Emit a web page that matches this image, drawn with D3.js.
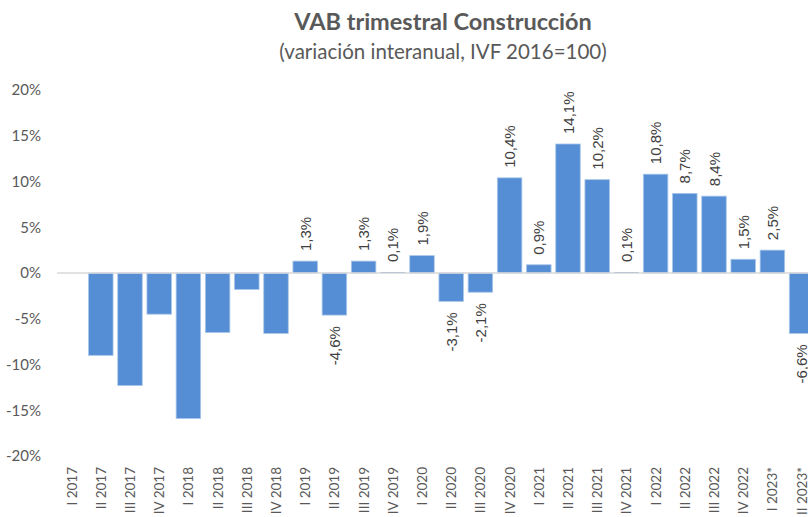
<!DOCTYPE html>
<html>
<head>
<meta charset="utf-8">
<script src="https://cdn.jsdelivr.net/npm/d3@7"></script>
<style>
  body { margin: 0; background: #fff; }
  svg { display: block; }
</style>
</head>
<body>
<div id="chart"></div>
<script>
// quarters, last two are provisional
var quarters = ["I 2017", "II 2017", "III 2017", "IV 2017",
                "I 2018", "II 2018", "III 2018", "IV 2018",
                "I 2019", "II 2019", "III 2019", "IV 2019",
                "I 2020", "II 2020", "III 2020", "IV 2020",
                "I 2021", "II 2021", "III 2021", "IV 2021",
                "I 2022", "II 2022", "III 2022", "IV 2022",
                "I 2023*", "II 2023*"];
// year-on-year change, %
var change = [null, -9.0, -12.3, -4.5,
              -15.9, -6.5, -1.8, -6.6,
              1.3, -4.6, 1.3, 0.1,
              1.9, -3.1, -2.1, 10.4,
              0.9, 14.1, 10.2, 0.1,
              10.8, 8.7, 8.4, 1.5,
              2.5, -6.6];
var firstLabelled = "I 2019";   // data labels only shown from here on
var yTicks = [-20, -15, -10, -5, 0, 5, 10, 15, 20];

var width = 808, height = 517;
var svg = d3.select("#chart").append("svg")
            .attr("width", width)
            .attr("height", height);

var x = d3.scaleBand()
          .domain(quarters)
          .range([57, 57 + 29.2 * quarters.length])
          .paddingInner(0.16)
          .paddingOuter(0.08);

var y = d3.scaleLinear()
          .domain([-20, 20])
          .range([456, 90]);

// title
svg.append("text")
   .attr("x", 443).attr("y", 30)
   .attr("text-anchor", "middle")
   .style("font-family", "Lato, 'Open Sans', sans-serif")
   .style("font-weight", "bold")
   .style("font-size", "23.5px")
   .style("fill", "#595959")
   .text("VAB trimestral Construcción");
svg.append("text")
   .attr("x", 443).attr("y", 59)
   .attr("text-anchor", "middle")
   .style("font-family", "Lato, 'Open Sans', sans-serif")
   .style("font-size", "20.5px")
   .style("fill", "#595959")
   .text("(variación interanual, IVF 2016=100)");

// y axis labels, no line
var yAxis = d3.axisLeft(y)
              .tickValues(yTicks)
              .tickSize(0)
              .tickPadding(0)
              .tickFormat(d => d + "%");
var yg = svg.append("g")
            .attr("transform", "translate(41,0)")
            .call(yAxis);
yg.select(".domain").remove();
yg.selectAll("text")
  .style("font-family", "Lato, sans-serif")
  .style("font-size", "15px")
  .style("fill", "#595959");

// bars
var data = quarters.map((q, i) => ({ q: q, v: change[i] }))
                   .filter(d => d.v !== null);

svg.append("g").selectAll("rect")
   .data(data)
   .enter().append("rect")
   .attr("x", d => x(d.q))
   .attr("width", x.bandwidth())
   .attr("y", d => y(Math.max(0, d.v)))
   .attr("height", d => Math.abs(y(d.v) - y(0)))
   .attr("fill", "#558ed5")
   .attr("stroke", d => Math.abs(d.v) < 0.5 ? "none" : "#a9c6ea")
   .attr("stroke-width", 0.8);

// zero line
svg.append("line")
   .attr("x1", x.range()[0]).attr("x2", x.range()[1])
   .attr("y1", y(0)).attr("y2", y(0))
   .attr("stroke", "#d9d9d9")
   .attr("stroke-width", 1.5);

// data labels (rotated)
var startIdx = quarters.indexOf(firstLabelled);
var fmt = v => v.toFixed(1).replace(".", ",") + "%";
svg.append("g").selectAll("text")
   .data(data.filter(d => quarters.indexOf(d.q) >= startIdx))
   .enter().append("text")
   .attr("transform", d => {
       var cx = x(d.q) + x.bandwidth() / 2;
       var yy = d.v >= 0 ? y(d.v) - 10 : y(d.v) + 11;
       return `translate(${cx},${yy}) rotate(-90)`;
   })
   .attr("text-anchor", d => d.v >= 0 ? "start" : "end")
   .attr("dominant-baseline", "central")
   .style("font-family", "'Liberation Sans', Arial, sans-serif")
   .style("font-size", "15px")
   .style("fill", "#404040")
   .text(d => fmt(d.v));

// category labels
svg.append("g").selectAll("text")
   .data(quarters)
   .enter().append("text")
   .attr("transform", q => `translate(${x(q) + x.bandwidth() / 2},467) rotate(-90)`)
   .attr("text-anchor", "end")
   .attr("dominant-baseline", "central")
   .style("font-family", "Lato, sans-serif")
   .style("font-size", "13.5px")
   .style("fill", "#595959")
   .text(q => q);
</script>
</body>
</html>
